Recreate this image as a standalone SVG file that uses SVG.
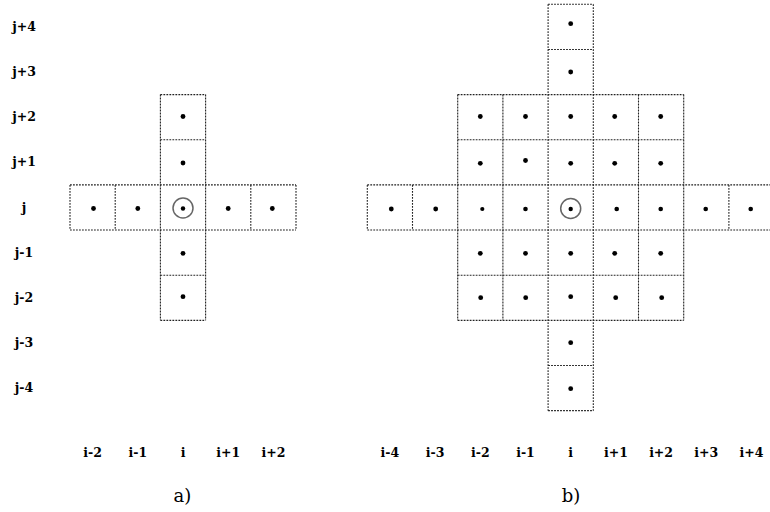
<svg xmlns="http://www.w3.org/2000/svg" width="770" height="512" viewBox="0 0 770 512">
<style>
.grid{stroke:#222;stroke-width:1.1;stroke-dasharray:1.8 1.2;fill:none}
.dot{fill:#000}
.ring{fill:none;stroke:#666;stroke-width:1.5}
.lbl{font-family:"DejaVu Serif","Liberation Serif",serif;font-weight:bold;font-size:12.5px;fill:#000;text-anchor:middle}
.cap{font-family:"DejaVu Serif","Liberation Serif",serif;font-size:18px;fill:#000;text-anchor:middle}
</style>
<rect width="770" height="512" fill="#fff"/>
<g id="connectors" class="grid">
<!-- grid a -->
<path d="M160.4 94.6H205.6M160.4 139.75H205.6M70 184.9H296M70 230.05H296M160.4 275.2H205.6M160.4 320.35H205.6"/>
<path d="M70 184.9V230.05M115.2 184.9V230.05M250.8 184.9V230.05M296 184.9V230.05M160.4 94.6V320.35M205.6 94.6V320.35"/>
<!-- grid b -->
<path d="M548.1 4.3H593.3M548.1 49.45H593.3M457.7 94.6H683.7M457.7 139.75H683.7M367.3 184.9H774.1M367.3 230.05H774.1M457.7 275.2H683.7M457.7 320.35H683.7M548.1 365.5H593.3M548.1 410.65H593.3"/>
<path d="M548.1 4.3V410.65M593.3 4.3V410.65M457.7 94.6V320.35M502.9 94.6V320.35M638.5 94.6V320.35M683.7 94.6V320.35M367.3 184.9V230.05M412.5 184.9V230.05M728.9 184.9V230.05"/>
</g>
<g id="labels-rows">
<text class="lbl" x="24" y="31">j+4</text>
<text class="lbl" x="24" y="76">j+3</text>
<text class="lbl" x="24" y="121">j+2</text>
<text class="lbl" x="24" y="166">j+1</text>
<text class="lbl" x="24" y="211.5">j</text>
<text class="lbl" x="24" y="257">j-1</text>
<text class="lbl" x="24" y="302">j-2</text>
<text class="lbl" x="24" y="347">j-3</text>
<text class="lbl" x="24" y="392">j-4</text>
</g>
<g id="labels-cols-a">
<text class="lbl" x="92.6" y="457">i-2</text>
<text class="lbl" x="137.8" y="457">i-1</text>
<text class="lbl" x="183" y="457">i</text>
<text class="lbl" x="228.2" y="457">i+1</text>
<text class="lbl" x="273.4" y="457">i+2</text>
<text class="cap" x="182.5" y="501.5">a)</text>
</g>
<g id="labels-cols-b">
<text class="lbl" x="389.9" y="457">i-4</text>
<text class="lbl" x="435.1" y="457">i-3</text>
<text class="lbl" x="480.3" y="457">i-2</text>
<text class="lbl" x="525.5" y="457">i-1</text>
<text class="lbl" x="570.7" y="457">i</text>
<text class="lbl" x="615.9" y="457">i+1</text>
<text class="lbl" x="661.1" y="457">i+2</text>
<text class="lbl" x="706.3" y="457">i+3</text>
<text class="lbl" x="751.5" y="457">i+4</text>
<text class="cap" x="571" y="501.5">b)</text>
</g>
<!-- stencil a -->
<g id="a-i-jp2"><circle class="dot" cx="183" cy="116.5" r="2.4"/></g>
<g id="a-i-jp1"><circle class="dot" cx="183" cy="163" r="2.4"/></g>
<g id="a-im2-j"><circle class="dot" cx="93.5" cy="208.5" r="2.4"/></g>
<g id="a-im1-j"><circle class="dot" cx="137.8" cy="208.5" r="2.4"/></g>
<g id="a-i-j"><circle class="dot" cx="183" cy="208.5" r="2.2"/><circle class="ring" cx="183" cy="208" r="10"/></g>
<g id="a-ip1-j"><circle class="dot" cx="228.2" cy="208.5" r="2.4"/></g>
<g id="a-ip2-j"><circle class="dot" cx="272.3" cy="208.5" r="2.4"/></g>
<g id="a-i-jm1"><circle class="dot" cx="183" cy="253.3" r="2.4"/></g>
<g id="a-i-jm2"><circle class="dot" cx="183" cy="296.7" r="2.4"/></g>
<!-- stencil b -->
<g id="b-i-jp4"><circle class="dot" cx="570.7" cy="23.7" r="2.4"/></g>
<g id="b-i-jp3"><circle class="dot" cx="570.7" cy="72" r="2.4"/></g>
<g id="b-im2-jp2"><circle class="dot" cx="480.3" cy="116.5" r="2.4"/></g>
<g id="b-im1-jp2"><circle class="dot" cx="525.5" cy="116.5" r="2.4"/></g>
<g id="b-i-jp2"><circle class="dot" cx="570.7" cy="116.5" r="2.4"/></g>
<g id="b-ip1-jp2"><circle class="dot" cx="614.7" cy="116.5" r="2.4"/></g>
<g id="b-ip2-jp2"><circle class="dot" cx="660.7" cy="116.5" r="2.4"/></g>
<g id="b-im2-jp1"><circle class="dot" cx="480.3" cy="163.3" r="2.4"/></g>
<g id="b-im1-jp1"><circle class="dot" cx="525.5" cy="160.5" r="2.4"/></g>
<g id="b-i-jp1"><circle class="dot" cx="570.7" cy="163.3" r="2.4"/></g>
<g id="b-ip1-jp1"><circle class="dot" cx="614.7" cy="163.3" r="2.4"/></g>
<g id="b-ip2-jp1"><circle class="dot" cx="660.7" cy="163.3" r="2.4"/></g>
<g id="b-im4-j"><circle class="dot" cx="391.3" cy="209" r="2.4"/></g>
<g id="b-im3-j"><circle class="dot" cx="435.7" cy="209" r="2.4"/></g>
<g id="b-im2-j"><circle class="dot" cx="482.3" cy="209" r="2.1"/></g>
<g id="b-im1-j"><circle class="dot" cx="525.5" cy="209" r="2.3"/></g>
<g id="b-i-j"><circle class="dot" cx="570.7" cy="209" r="2.2"/><circle class="ring" cx="570.7" cy="208.5" r="10"/></g>
<g id="b-ip1-j"><circle class="dot" cx="616.7" cy="209" r="2.3"/></g>
<g id="b-ip2-j"><circle class="dot" cx="660.7" cy="209" r="2.3"/></g>
<g id="b-ip3-j"><circle class="dot" cx="705.7" cy="209" r="2.3"/></g>
<g id="b-ip4-j"><circle class="dot" cx="750.7" cy="209" r="2.3"/></g>
<g id="b-im2-jm1"><circle class="dot" cx="480.3" cy="253.3" r="2.4"/></g>
<g id="b-im1-jm1"><circle class="dot" cx="525.5" cy="253.3" r="2.4"/></g>
<g id="b-i-jm1"><circle class="dot" cx="570.7" cy="253.3" r="2.4"/></g>
<g id="b-ip1-jm1"><circle class="dot" cx="614.7" cy="253.3" r="2.4"/></g>
<g id="b-ip2-jm1"><circle class="dot" cx="660.7" cy="253.3" r="2.4"/></g>
<g id="b-im2-jm2"><circle class="dot" cx="480.7" cy="297.7" r="2.4"/></g>
<g id="b-im1-jm2"><circle class="dot" cx="525.7" cy="297.7" r="2.4"/></g>
<g id="b-i-jm2"><circle class="dot" cx="570.7" cy="296.7" r="2.4"/></g>
<g id="b-ip1-jm2"><circle class="dot" cx="615.7" cy="297.7" r="2.4"/></g>
<g id="b-ip2-jm2"><circle class="dot" cx="661.7" cy="297.7" r="2.4"/></g>
<g id="b-i-jm3"><circle class="dot" cx="570.7" cy="342.7" r="2.4"/></g>
<g id="b-i-jm4"><circle class="dot" cx="570.7" cy="388.7" r="2.4"/></g>
</svg>
